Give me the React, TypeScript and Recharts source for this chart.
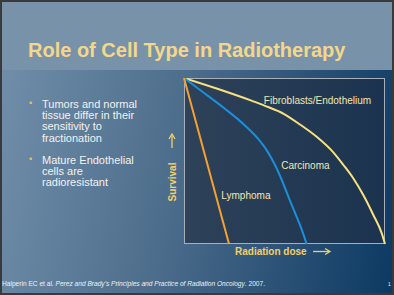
import { LineChart, Line, XAxis, YAxis, ReferenceDot } from 'recharts';

// dose (0-100, relative) vs survival (0-100, relative)
const lymphomaDose = [0, 22.4];
const lymphomaSurvival = [100, 0];

const carcinomaDose = [0, 10, 19.9, 29.9, 36.5, 41.5, 45.6, 48.9, 52.2, 55.6, 58.9, 61];
const carcinomaSurvival = [100, 91, 81.9, 71.9, 63.9, 55.8, 46.8, 37.8, 27.7, 17.7, 7.6, 0];

const fibroDose = [0, 16.6, 33.2, 40, 49.8, 57.7, 66, 74.3, 79.3, 84.2, 89.2, 94.2, 98.4, 100];
const fibroSurvival = [100, 93.5, 86.5, 83.4, 78.3, 72, 64.6, 55.2, 47.6, 39.6, 29.5, 17.5, 6.4, 0];

const bullets = [
  'Tumors and normal tissue differ in their sensitivity to fractionation',
  'Mature Endothelial cells are radioresistant',
];

const toRows = (xs: number[], ys: number[]) => xs.map((x, i) => ({ dose: x, survival: ys[i] }));

const lymphoma = toRows(lymphomaDose, lymphomaSurvival);
const carcinoma = toRows(carcinomaDose, carcinomaSurvival);
const fibro = toRows(fibroDose, fibroSurvival);

const GOLD = '#f2cf6b';
const FONT = '"Liberation Sans", Arial, sans-serif';

const DoseLabel = ({ viewBox }: any) => {
  const { x, y } = viewBox;
  return (
    <g>
      <text x={x + 51} y={y + 11} fill={GOLD} fontSize={10} fontWeight="bold" fontFamily={FONT}>
        Radiation dose
      </text>
      <line x1={x + 129} y1={y + 7.5} x2={x + 145} y2={y + 7.5} stroke={GOLD} strokeWidth={1.3} />
      <path d={`M${x + 141},${y + 4.5} L${x + 146},${y + 7.5} L${x + 141},${y + 10.5}`} fill="none" stroke={GOLD} strokeWidth={1.3} />
    </g>
  );
};

const SurvivalLabel = ({ viewBox }: any) => {
  const { x, y } = viewBox;
  const cx = x + 12;
  return (
    <g>
      <text
        x={cx}
        y={y + 104}
        transform={`rotate(-90 ${cx} ${y + 104})`}
        textAnchor="middle"
        dominantBaseline="central"
        fill={GOLD}
        fontSize={10}
        fontWeight="bold"
        fontFamily={FONT}
      >
        Survival
      </text>
      <line x1={cx} y1={y + 70} x2={cx} y2={y + 57} stroke={GOLD} strokeWidth={1.3} />
      <path d={`M${cx - 3},${y + 61} L${cx},${y + 56} L${cx + 3},${y + 61}`} fill="none" stroke={GOLD} strokeWidth={1.3} />
    </g>
  );
};

const curveLabel = (value: string) => ({
  value,
  position: 'center' as const,
  fill: '#f3e7b4',
  fontSize: 10,
  fontFamily: FONT,
});

export default function App() {
  return (
    <div
      style={{
        position: 'relative',
        width: 394,
        height: 295,
        boxSizing: 'border-box',
        border: '2px solid #3a3a3a',
        background: 'linear-gradient(100deg, #7290aa 0%, #4d6d8c 45%, #0c3962 100%)',
        overflow: 'hidden',
        fontFamily: FONT,
      }}
    >
      <style>{`body{margin:0}`}</style>
      <div style={{ position: 'absolute', left: -2, top: -2, width: 394, height: 70, background: '#7892aa' }} />
      <div
        style={{
          position: 'absolute',
          left: 26,
          top: 37,
          fontSize: 20,
          fontWeight: 'bold',
          color: '#f5d78a',
          whiteSpace: 'nowrap',
        }}
      >
        Role of Cell Type in Radiotherapy
      </div>

      {bullets.map((b, i) => (
        <div
          key={i}
          style={{
            position: 'absolute',
            left: 40,
            top: i === 0 ? 96.5 : 152.5,
            width: 105,
            fontSize: 11,
            lineHeight: '11.4px',
            color: '#f2f2f2',
          }}
        >
          <span style={{ position: 'absolute', left: -13, top: -1, color: '#e8c45a', fontSize: 9 }}>•</span>
          {b}
        </div>
      ))}

      <div
        style={{
          position: 'absolute',
          left: 182,
          top: 76,
          width: 201,
          height: 166,
          boxSizing: 'border-box',
          border: '1.5px solid #a7afb8',
          background: 'linear-gradient(to right, #2e4259, #1b334f)',
        }}
      />

      <div style={{ position: 'absolute', left: 158, top: 76 }}>
        <LineChart width={234} height={186} margin={{ top: 0, right: 9, bottom: 0, left: 0 }}>
          <XAxis
            type="number"
            dataKey="dose"
            domain={[0, 100]}
            height={20}
            tick={false}
            tickLine={false}
            axisLine={false}
            label={<DoseLabel />}
          />
          <YAxis
            type="number"
            dataKey="survival"
            domain={[0, 100]}
            width={24}
            tick={false}
            tickLine={false}
            axisLine={false}
            label={<SurvivalLabel />}
          />
          <Line data={fibro} dataKey="survival" type="monotone" stroke="#f7e27f" strokeWidth={2} dot={false} isAnimationActive={false} />
          <Line data={carcinoma} dataKey="survival" type="monotone" stroke="#1b8fd9" strokeWidth={2} dot={false} isAnimationActive={false} />
          <Line data={lymphoma} dataKey="survival" type="linear" stroke="#f5a032" strokeWidth={2} dot={false} isAnimationActive={false} />
          <ReferenceDot x={66.4} y={86.3} r={0} stroke="none" fill="none" label={curveLabel('Fibroblasts/Endothelium')} />
          <ReferenceDot x={60.4} y={47.4} r={0} stroke="none" fill="none" label={curveLabel('Carcinoma')} />
          <ReferenceDot x={30.8} y={29.3} r={0} stroke="none" fill="none" label={curveLabel('Lymphoma')} />
        </LineChart>
      </div>

      <div
        style={{
          position: 'absolute',
          left: 0,
          top: 278,
          fontSize: 6.6,
          color: '#eef2f6',
          whiteSpace: 'nowrap',
        }}
      >
        Halperin EC et al. <i>Perez and Brady's Principles and Practice of Radiation Oncology</i>. 2007.
      </div>
      <div style={{ position: 'absolute', left: 386, top: 279, fontSize: 5, color: '#eef2f6' }}>1</div>
    </div>
  );
}
